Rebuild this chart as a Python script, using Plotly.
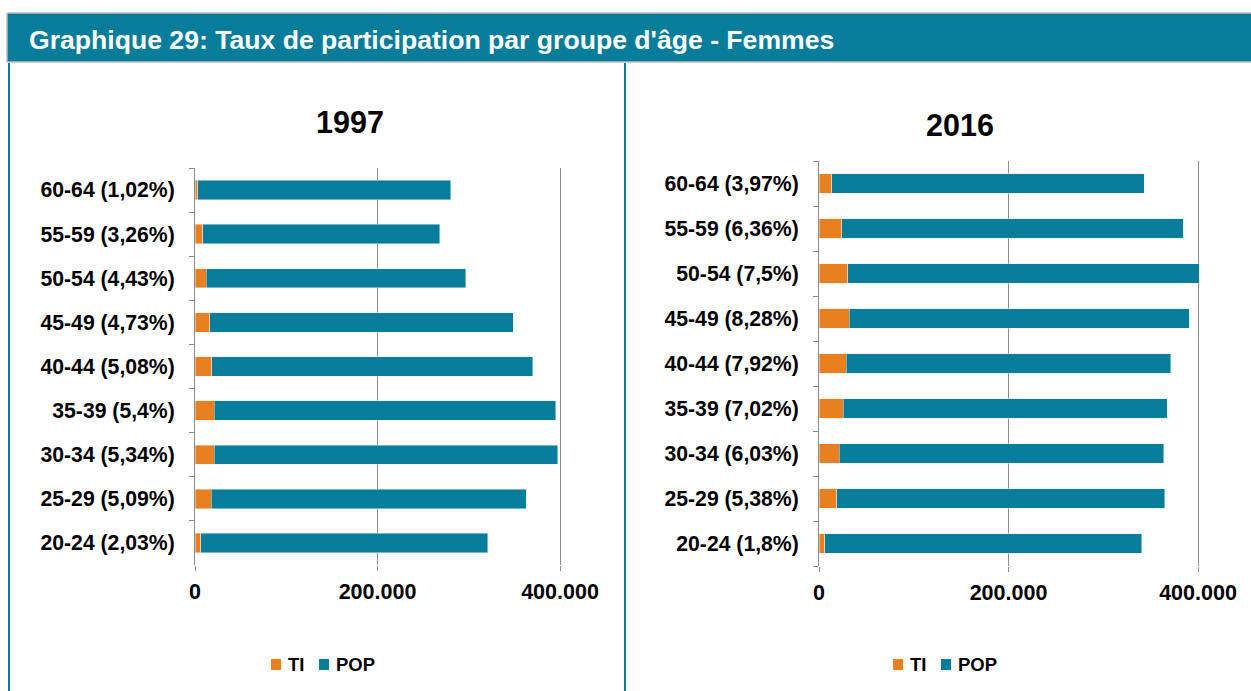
import plotly.graph_objects as go
from plotly.subplots import make_subplots

# ---- data (bottom to top) ----
cats_1997 = ["20-24 (2,03%)", "25-29 (5,09%)", "30-34 (5,34%)", "35-39 (5,4%)", "40-44 (5,08%)",
             "45-49 (4,73%)", "50-54 (4,43%)", "55-59 (3,26%)", "60-64 (1,02%)"]
ti_1997 = [6100, 17800, 21200, 21300, 18300, 16100, 12200, 8300, 2900]
pop_1997 = [314800, 345200, 376600, 373900, 351700, 332600, 284300, 260000, 277500]

cats_2016 = ["20-24 (1,8%)", "25-29 (5,38%)", "30-34 (6,03%)", "35-39 (7,02%)", "40-44 (7,92%)",
             "45-49 (8,28%)", "50-54 (7,5%)", "55-59 (6,36%)", "60-64 (3,97%)"]
ti_2016 = [6000, 18700, 21300, 25500, 28900, 31900, 30200, 23800, 13200]
pop_2016 = [334400, 346000, 342500, 342200, 342100, 358700, 371300, 360500, 330200]

x_ticks = [0, 200000, 400000]
x_ticktext = ["0", "200.000", "400.000"]

series_names = ["TI", "POP"]
main_title = "Graphique 29: Taux de participation par groupe d'âge - Femmes"
sub_titles = ["1997", "2016"]

TEAL = "#077C9B"
ORANGE = "#E8801F"
GRID = "#8C8C8C"
BORDER = "#BDBDBD"
FONT = "Liberation Sans, Arial, sans-serif"

W, H = 1251, 691


def px_x(p):
    return p / W


def px_y(p):
    return 1 - p / H


fig = make_subplots(rows=1, cols=2)

fig.add_trace(go.Bar(y=cats_1997, x=ti_1997, orientation="h", name=series_names[0],
                     marker_color=ORANGE, showlegend=False), row=1, col=1)
fig.add_trace(go.Bar(y=cats_1997, x=pop_1997, orientation="h", name=series_names[1],
                     marker_color=TEAL, showlegend=False), row=1, col=1)
fig.add_trace(go.Bar(y=cats_2016, x=ti_2016, orientation="h", name=series_names[0],
                     marker_color=ORANGE, showlegend=False), row=1, col=2)
fig.add_trace(go.Bar(y=cats_2016, x=pop_2016, orientation="h", name=series_names[1],
                     marker_color=TEAL, showlegend=False), row=1, col=2)

rmax = 403000
l0, l400 = 195, 560
r0, r400 = 819, 1198
fig.update_layout(
    width=W, height=H, autosize=False,
    margin=dict(l=0, r=0, t=0, b=0, pad=0),
    paper_bgcolor="white", plot_bgcolor="white",
    barmode="stack", bargap=0.56,
    font=dict(family=FONT, color="black"),
    xaxis=dict(domain=[px_x(l0), px_x(l0 + (l400 - l0) * rmax / 400000)]),
    yaxis=dict(domain=[px_y(565), px_y(168)]),
    xaxis2=dict(domain=[px_x(r0), px_x(r0 + (r400 - r0) * rmax / 400000)]),
    yaxis2=dict(domain=[px_y(566), px_y(161)]),
)

for ax in ["xaxis", "xaxis2"]:
    fig.layout[ax].update(range=[0, rmax], tickvals=x_ticks, ticktext=x_ticktext,
                          showgrid=True, gridcolor=GRID, gridwidth=1, zeroline=False,
                          showline=False, ticks="outside", ticklen=5, tickcolor=GRID,
                          ticklabelstandoff=2, automargin=False,
                          tickfont=dict(size=21.5, family=FONT, weight="bold", color="black"),
                          fixedrange=True)
for ax in ["yaxis", "yaxis2"]:
    fig.layout[ax].update(type="category", showline=True, linecolor=GRID, linewidth=1,
                          ticks="outside", tickson="boundaries", ticklen=5, tickcolor=GRID,
                          showgrid=False, ticklabelstandoff=15, automargin=False,
                          tickfont=dict(size=21.2, family=FONT, weight="bold", color="black"),
                          fixedrange=True)

# header bar and panel lines
fig.add_shape(type="rect", xref="paper", yref="paper", x0=px_x(7), x1=1.0,
              y0=px_y(62), y1=px_y(13), fillcolor=TEAL, line=dict(width=0), layer="below")
for (xa, ya, xb, yb) in ((7, 13, W, 13), (7, 62, W, 62), (7, 13, 7, 62)):
    fig.add_shape(type="line", xref="paper", yref="paper", x0=px_x(xa), x1=px_x(xb),
                  y0=px_y(ya), y1=px_y(yb), line=dict(color=BORDER, width=1.5))
fig.add_shape(type="line", xref="paper", yref="paper", x0=px_x(9), x1=px_x(9),
              y0=px_y(63), y1=0, line=dict(color=TEAL, width=2))
fig.add_shape(type="line", xref="paper", yref="paper", x0=px_x(625), x1=px_x(625),
              y0=px_y(63), y1=0, line=dict(color=TEAL, width=2))

fig.add_annotation(text=main_title, xref="paper", yref="paper", x=px_x(27), y=px_y(40),
                   xanchor="left", yanchor="middle", showarrow=False,
                   font=dict(size=26.6, family=FONT, weight="bold", color="white"))
fig.add_annotation(text=sub_titles[0], xref="paper", yref="paper", x=px_x(350), y=px_y(122),
                   xanchor="center", yanchor="middle", showarrow=False,
                   font=dict(size=30.5, family=FONT, weight="bold", color="black"))
fig.add_annotation(text=sub_titles[1], xref="paper", yref="paper", x=px_x(960), y=px_y(125),
                   xanchor="center", yanchor="middle", showarrow=False,
                   font=dict(size=30.5, family=FONT, weight="bold", color="black"))

# legends (one per panel)
for off in (0, 622):
    for sx, tx, col, name in ((271, 286, ORANGE, series_names[0]),
                              (319, 334, TEAL, series_names[1])):
        fig.add_shape(type="rect", xref="paper", yref="paper",
                      x0=px_x(sx + off), x1=px_x(sx + off + 10),
                      y0=px_y(670), y1=px_y(659), fillcolor=col, line=dict(width=0))
        fig.add_annotation(text=name, xref="paper", yref="paper", x=px_x(tx + off), y=px_y(664),
                           xanchor="left", yanchor="middle", showarrow=False,
                           font=dict(size=18.5, family=FONT, weight="bold", color="black"))

fig.write_html("out.html", config={"displayModeBar": False},
               post_script="document.body.style.margin='0px';")
